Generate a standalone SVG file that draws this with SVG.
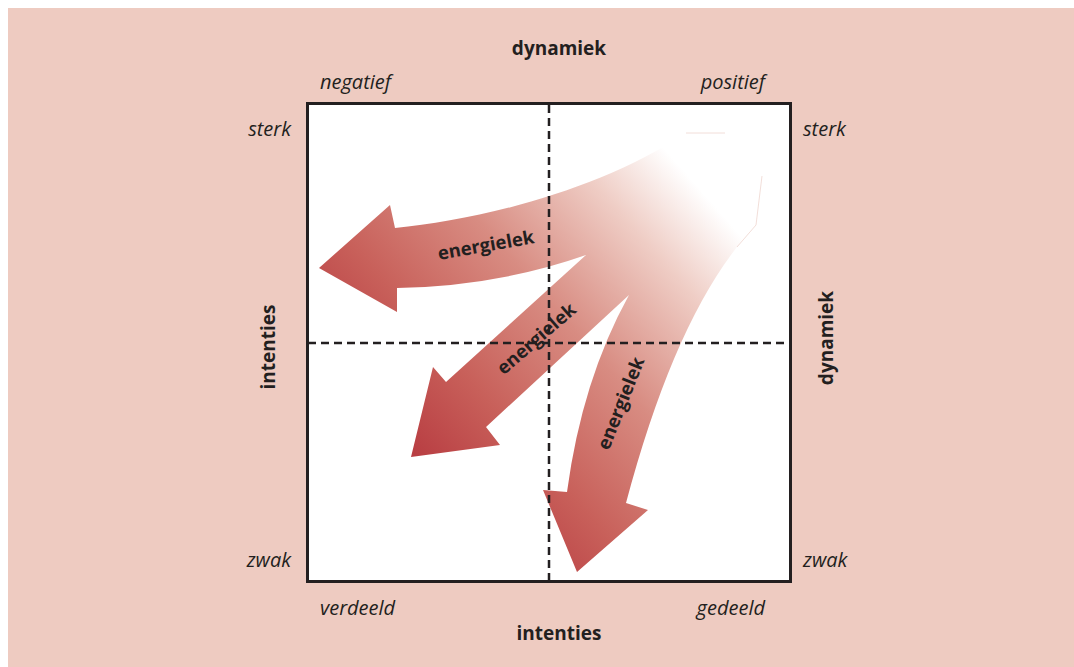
<svg xmlns="http://www.w3.org/2000/svg" width="1074" height="667" viewBox="0 0 1074 667">
  <defs>
    <linearGradient id="fade" gradientUnits="userSpaceOnUse" x1="735" y1="175" x2="400" y2="470">
      <stop offset="0" stop-color="#ffffff"/>
      <stop offset="0.08" stop-color="#ffffff"/>
      <stop offset="0.25" stop-color="#efcdc5"/>
      <stop offset="0.5" stop-color="#d88c82"/>
      <stop offset="0.75" stop-color="#c8605a"/>
      <stop offset="1" stop-color="#b5363d"/>
    </linearGradient>
    <style>
      .bold { font-family: "Open Sans", "Noto Sans", sans-serif; font-weight: bold; font-size: 19px; fill: #231f20; }
      .ital { font-family: "Open Sans", "Noto Sans", sans-serif; font-style: italic; font-size: 20px; fill: #231f20; }
      .lbl { font-family: "Open Sans", "Noto Sans", sans-serif; font-weight: bold; font-size: 18.5px; fill: #231f20; text-anchor: middle; }
      .dash { stroke: #231f20; stroke-width: 2.5; stroke-dasharray: 8 5; fill: none; }
      .faint { stroke: #efd6cf; stroke-width: 0.8; fill: none; }
    </style>
  </defs>

  <rect x="8" y="8" width="1066" height="659" fill="#eecbc1"/>

  <g id="frame">
    <rect x="307.5" y="103.5" width="483" height="478" fill="#ffffff" stroke="#231f20" stroke-width="3"/>
  </g>

  <g id="connectors">
    <path fill="url(#fade)" d="M686,133 L725,133 L762,176 L756,225 L737,247 Q672,330 626,503 L648,510 L577,572 L543,490 L567,492 Q582,380 629,295 L486,427 L500,445 L411,457 L433,367 L446,382 L586,255 Q498,286 397,288 L397,312 L319,268 L390,205 L395,228 C480,220 600,190 686,133 Z"/>
    <path class="faint" d="M686,133 L725,133 M762,176 L756,225 L737,247"/>
  </g>

  <g id="arrow-labels">
    <text class="lbl" transform="translate(487,251.5) rotate(-10)">energielek</text>
    <text class="lbl" transform="translate(540.5,343.5) rotate(-41)">energielek</text>
    <text class="lbl" transform="translate(626.7,405.7) rotate(-68.3)">energielek</text>
  </g>

  <g id="axes">
    <line class="dash" x1="308" y1="343" x2="789" y2="343"/>
    <line class="dash" x1="549" y1="105" x2="549" y2="580"/>
  </g>

  <g id="top-labels">
    <text class="bold" x="559" y="55" text-anchor="middle">dynamiek</text>
    <text class="ital" x="320" y="89">negatief</text>
    <text class="ital" x="765" y="89" text-anchor="end">positief</text>
  </g>

  <g id="side-labels">
    <text class="ital" x="291" y="136" text-anchor="end">sterk</text>
    <text class="ital" x="803" y="136">sterk</text>
    <text class="ital" x="291" y="567" text-anchor="end">zwak</text>
    <text class="ital" x="803" y="567">zwak</text>
    <text class="bold" transform="translate(275,347) rotate(-90)" text-anchor="middle">intenties</text>
    <text class="bold" transform="translate(833,338) rotate(-90)" text-anchor="middle">dynamiek</text>
  </g>

  <g id="bottom-labels">
    <text class="ital" x="320" y="615">verdeeld</text>
    <text class="ital" x="765" y="615" text-anchor="end">gedeeld</text>
    <text class="bold" x="559" y="640" text-anchor="middle">intenties</text>
  </g>
</svg>
